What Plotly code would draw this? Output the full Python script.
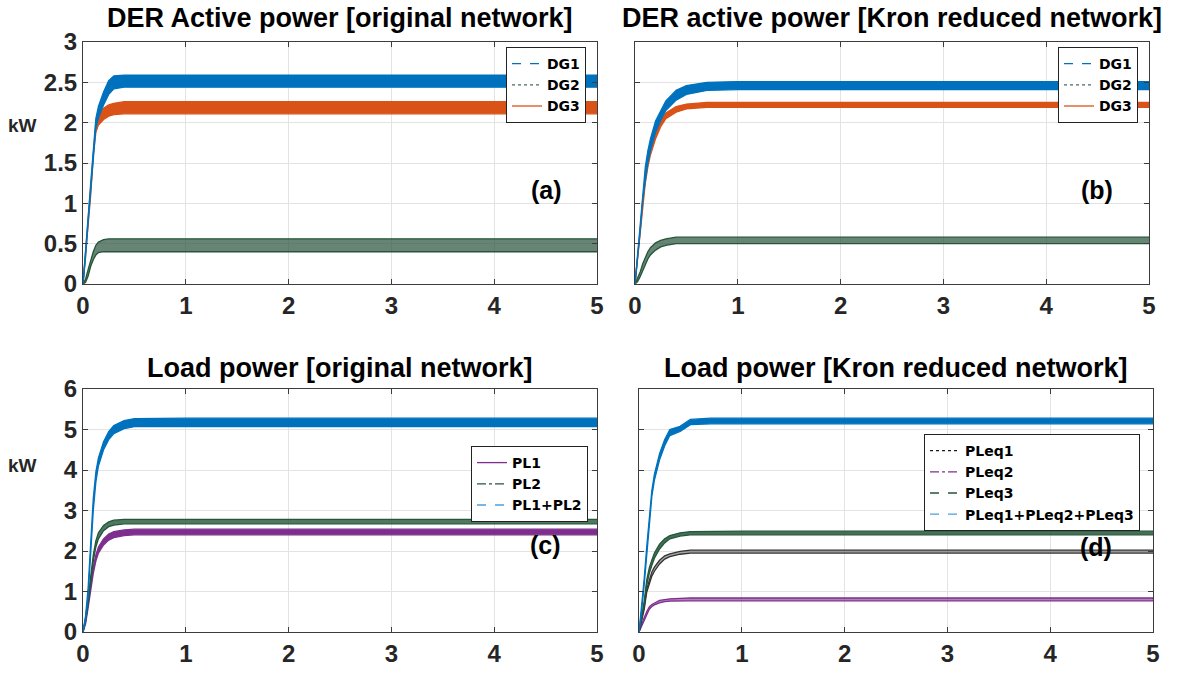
import plotly.graph_objects as go

# Time base (s) shared by all envelopes
T = [0, 0.025, 0.05, 0.075, 0.1, 0.125, 0.15, 0.2, 0.25, 0.3, 0.4, 0.5, 0.7, 1, 2, 3, 4, 5]

# (a) DER active power, original network: lower / upper envelope of the ripple (kW)
DG1_a_lo = [0, 0.33, 0.77, 1.17, 1.60, 1.93, 2.06, 2.22, 2.35, 2.42, 2.44, 2.44, 2.44, 2.44, 2.44, 2.44, 2.44, 2.44]
DG1_a_hi = [0, 0.37, 0.83, 1.25, 1.70, 2.05, 2.20, 2.38, 2.52, 2.58, 2.59, 2.59, 2.59, 2.59, 2.59, 2.59, 2.59, 2.59]
DG2_a_lo = [0, 0.02, 0.10, 0.22, 0.30, 0.36, 0.39, 0.40, 0.40, 0.40, 0.40, 0.40, 0.40, 0.40, 0.40, 0.40, 0.40, 0.40]
DG2_a_hi = [0, 0.06, 0.18, 0.30, 0.40, 0.48, 0.52, 0.55, 0.56, 0.56, 0.56, 0.56, 0.56, 0.56, 0.56, 0.56, 0.56, 0.56]
DG3_a_lo = [0, 0.36, 0.68, 1.10, 1.60, 1.88, 1.97, 2.04, 2.08, 2.10, 2.11, 2.11, 2.11, 2.11, 2.11, 2.11, 2.11, 2.11]
DG3_a_hi = [0, 0.42, 0.76, 1.20, 1.70, 2.00, 2.09, 2.18, 2.22, 2.24, 2.26, 2.26, 2.26, 2.26, 2.26, 2.26, 2.26, 2.26]

# (b) DER active power, Kron reduced network
DG1_b_lo = [0, 0.30, 0.65, 1.05, 1.30, 1.50, 1.65, 1.88, 2.03, 2.15, 2.28, 2.35, 2.40, 2.41, 2.41, 2.41, 2.41, 2.41]
DG1_b_hi = [0, 0.36, 0.75, 1.18, 1.45, 1.65, 1.80, 2.02, 2.15, 2.27, 2.40, 2.46, 2.50, 2.51, 2.51, 2.51, 2.51, 2.51]
DG2_b_lo = [0, 0.03, 0.09, 0.17, 0.25, 0.31, 0.36, 0.42, 0.46, 0.48, 0.50, 0.50, 0.50, 0.50, 0.50, 0.50, 0.50, 0.50]
DG2_b_hi = [0, 0.07, 0.15, 0.25, 0.33, 0.40, 0.45, 0.51, 0.54, 0.56, 0.58, 0.58, 0.58, 0.58, 0.58, 0.58, 0.58, 0.58]
DG3_b_lo = [0, 0.30, 0.62, 0.98, 1.25, 1.45, 1.60, 1.80, 1.95, 2.05, 2.13, 2.17, 2.19, 2.19, 2.19, 2.19, 2.19, 2.19]
DG3_b_hi = [0, 0.34, 0.68, 1.06, 1.33, 1.53, 1.68, 1.88, 2.03, 2.12, 2.20, 2.23, 2.25, 2.25, 2.25, 2.25, 2.25, 2.25]

# (c) Load power, original network
PL1_lo = [0, 0.20, 0.60, 1.05, 1.45, 1.75, 1.95, 2.15, 2.27, 2.33, 2.38, 2.40, 2.40, 2.40, 2.40, 2.40, 2.40, 2.40]
PL1_hi = [0, 0.30, 0.75, 1.20, 1.60, 1.90, 2.10, 2.30, 2.42, 2.48, 2.52, 2.54, 2.54, 2.54, 2.54, 2.54, 2.54, 2.54]
PL2_lo = [0, 0.25, 0.70, 1.25, 1.75, 2.10, 2.30, 2.50, 2.60, 2.64, 2.67, 2.67, 2.67, 2.67, 2.67, 2.67, 2.67, 2.67]
PL2_hi = [0, 0.35, 0.85, 1.40, 1.90, 2.25, 2.45, 2.63, 2.72, 2.76, 2.78, 2.78, 2.78, 2.78, 2.78, 2.78, 2.78, 2.78]
PLS_lo = [0, 0.30, 0.90, 2.10, 3.00, 3.70, 4.10, 4.50, 4.75, 4.90, 5.02, 5.07, 5.07, 5.07, 5.07, 5.07, 5.07, 5.07]
PLS_hi = [0, 0.40, 1.10, 2.30, 3.30, 3.95, 4.30, 4.70, 4.95, 5.10, 5.22, 5.27, 5.28, 5.28, 5.28, 5.28, 5.28, 5.28]

# (d) Load power, Kron reduced network
PLeq1_lo = [0, 0.25, 0.55, 0.98, 1.20, 1.38, 1.50, 1.68, 1.80, 1.86, 1.92, 1.95, 1.95, 1.95, 1.95, 1.95, 1.95, 1.95]
PLeq1_hi = [0, 0.30, 0.62, 1.06, 1.30, 1.48, 1.60, 1.77, 1.88, 1.93, 1.99, 2.02, 2.02, 2.02, 2.02, 2.02, 2.02, 2.02]
PLeq2_lo = [0, 0.15, 0.30, 0.45, 0.56, 0.63, 0.67, 0.72, 0.75, 0.76, 0.77, 0.77, 0.77, 0.77, 0.77, 0.77, 0.77, 0.77]
PLeq2_hi = [0, 0.19, 0.35, 0.50, 0.62, 0.68, 0.72, 0.78, 0.80, 0.82, 0.83, 0.84, 0.84, 0.84, 0.84, 0.84, 0.84, 0.84]
PLeq3_lo = [0, 0.30, 0.65, 1.15, 1.45, 1.65, 1.82, 2.05, 2.20, 2.30, 2.37, 2.40, 2.40, 2.40, 2.40, 2.40, 2.40, 2.40]
PLeq3_hi = [0, 0.38, 0.75, 1.28, 1.58, 1.78, 1.95, 2.17, 2.30, 2.38, 2.45, 2.48, 2.49, 2.49, 2.49, 2.49, 2.49, 2.49]
PLeqS_lo = [0, 0.50, 1.15, 1.95, 2.75, 3.35, 3.75, 4.25, 4.60, 4.85, 4.95, 5.12, 5.14, 5.14, 5.14, 5.14, 5.14, 5.14]
PLeqS_hi = [0, 0.60, 1.30, 2.10, 2.90, 3.50, 3.90, 4.40, 4.75, 5.00, 5.08, 5.25, 5.28, 5.28, 5.28, 5.28, 5.28, 5.28]

BLUE = "#0072BD"
LBLUE = "#4D9FDB"
ORANGE = "#D95319"
PURPLE = "#7E2F8E"
GREEN = "#24563A"
BLACK = "#1a1a1a"

FONT = "Liberation Sans, Arial, sans-serif"
LEGEND_FONT = "DejaVu Sans, Liberation Sans, sans-serif"

fig = go.Figure()


def band(lo, hi, color, fillcolor, ax):
    xa, ya = ax
    fig.add_trace(go.Scatter(x=T, y=lo, mode="lines", line=dict(color=color, width=1.3),
                             xaxis=xa, yaxis=ya, showlegend=False, hoverinfo="skip"))
    fig.add_trace(go.Scatter(x=T, y=hi, mode="lines", line=dict(color=color, width=1.3),
                             fill="tonexty", fillcolor=fillcolor,
                             xaxis=xa, yaxis=ya, showlegend=False, hoverinfo="skip"))


def key(name, color, dash, legend):
    fig.add_trace(go.Scatter(x=[None], y=[None], mode="lines", name=name,
                             line=dict(color=color, dash=dash, width=1.3),
                             legend=legend, showlegend=True))


# (a)
band(DG2_a_lo, DG2_a_hi, GREEN, "rgba(45,85,62,0.72)", ("x", "y"))
band(DG3_a_lo, DG3_a_hi, ORANGE, ORANGE, ("x", "y"))
band(DG1_a_lo, DG1_a_hi, BLUE, BLUE, ("x", "y"))
key("DG1", BLUE, "dash", "legend")
key("DG2", "#4a6a6a", "dot", "legend")
key("DG3", ORANGE, "solid", "legend")

# (b)
band(DG2_b_lo, DG2_b_hi, GREEN, "rgba(45,85,62,0.72)", ("x2", "y2"))
band(DG3_b_lo, DG3_b_hi, ORANGE, ORANGE, ("x2", "y2"))
band(DG1_b_lo, DG1_b_hi, BLUE, BLUE, ("x2", "y2"))
key("DG1", BLUE, "dash", "legend2")
key("DG2", "#4a6a6a", "dot", "legend2")
key("DG3", ORANGE, "solid", "legend2")

# (c)
band(PL1_lo, PL1_hi, PURPLE, PURPLE, ("x3", "y3"))
band(PL2_lo, PL2_hi, GREEN, "rgba(36,86,58,0.8)", ("x3", "y3"))
band(PLS_lo, PLS_hi, BLUE, BLUE, ("x3", "y3"))
key("PL1", PURPLE, "solid", "legend3")
key("PL2", GREEN, "dashdot", "legend3")
key("PL1+PL2", LBLUE, "dash", "legend3")

# (d)
band(PLeq2_lo, PLeq2_hi, PURPLE, "rgba(126,47,142,0.6)", ("x4", "y4"))
band(PLeq1_lo, PLeq1_hi, "#333333", "rgba(60,60,60,0.45)", ("x4", "y4"))
band(PLeq3_lo, PLeq3_hi, GREEN, "rgba(36,86,58,0.85)", ("x4", "y4"))
band(PLeqS_lo, PLeqS_hi, BLUE, BLUE, ("x4", "y4"))
key("PLeq1", BLACK, "dot", "legend4")
key("PLeq2", PURPLE, "dashdot", "legend4")
key("PLeq3", GREEN, "dash", "legend4")
key("PLeq1+PLeq2+PLeq3", LBLUE, "dash", "legend4")

W, H = 1178, 673


def dom_x(l, r):
    return [l / W, r / W]


def dom_y(top, bottom):
    return [1 - bottom / H, 1 - top / H]


axis_common = dict(showline=True, mirror="ticks", linecolor="#3c3c3c", linewidth=1,
                   ticks="inside", ticklen=5, tickcolor="#3c3c3c", automargin=False,
                   showgrid=True, gridcolor="#e3e3e3", gridwidth=1, zeroline=False,
                   tickfont=dict(family=FONT, size=24, color="#262626", weight="bold"))

xa = dict(range=[0, 5], dtick=1, tick0=0, **axis_common)
ya_top = dict(range=[0, 3], dtick=0.5, tick0=0, **axis_common)
ya_bot = dict(range=[0, 6], dtick=1, tick0=0, **axis_common)

legend_common = dict(bgcolor="white", bordercolor="#222222", borderwidth=1,
                     font=dict(family=LEGEND_FONT, size=14, color="black", weight="bold"),
                     xanchor="right", yanchor="top", tracegroupgap=0, itemwidth=30,
                     traceorder="normal")

fig.update_layout(
    width=W, height=H,
    margin=dict(l=0, r=0, t=0, b=0),
    plot_bgcolor="white", paper_bgcolor="white",
    xaxis=dict(domain=dom_x(83, 597), anchor="y", **xa),
    yaxis=dict(domain=dom_y(42, 284), anchor="x", **ya_top),
    xaxis2=dict(domain=dom_x(635, 1149), anchor="y2", **xa),
    yaxis2=dict(domain=dom_y(42, 284), anchor="x2", showticklabels=False, **ya_top),
    xaxis3=dict(domain=dom_x(83, 597), anchor="y3", **xa),
    yaxis3=dict(domain=dom_y(389, 632), anchor="x3", **ya_bot),
    xaxis4=dict(domain=dom_x(639, 1153), anchor="y4", **xa),
    yaxis4=dict(domain=dom_y(389, 632), anchor="x4", showticklabels=False, **ya_bot),
    legend=dict(x=586 / W, y=1 - 47 / H, **legend_common),
    legend2=dict(x=1138 / W, y=1 - 47 / H, **legend_common),
    legend3=dict(x=588 / W, y=1 - 446 / H, **legend_common),
    legend4=dict(x=1140 / W, y=1 - 434 / H, **legend_common),
    showlegend=True,
)

titles = [
    ("DER Active power [original network]", 340, 18),
    ("DER active power [Kron reduced network]", 892, 18),
    ("Load power [original network]", 340, 368),
    ("Load power [Kron reduced network]", 896, 368),
]
for text, cx, cy in titles:
    fig.add_annotation(text=text, xref="paper", yref="paper", x=cx / W, y=1 - cy / H,
                       xanchor="center", yanchor="middle", showarrow=False,
                       font=dict(family=FONT, size=27, color="black", weight="bold"))

for cy in (125, 465):
    fig.add_annotation(text="kW", xref="paper", yref="paper", x=22 / W, y=1 - cy / H,
                       xanchor="center", yanchor="middle", showarrow=False,
                       font=dict(family=FONT, size=19, color="#262626", weight="bold"))

panel_tags = [("(a)", "x", "y", 4.51, 1.16), ("(b)", "x2", "y2", 4.49, 1.16),
              ("(c)", "x3", "y3", 4.5, 2.15), ("(d)", "x4", "y4", 4.45, 2.1)]
for text, xr, yr, px, py in panel_tags:
    fig.add_annotation(text=text, xref=xr, yref=yr, x=px, y=py, showarrow=False,
                       xanchor="center", yanchor="middle",
                       font=dict(family=FONT, size=25, color="black", weight="bold"))

fig.write_html("out.html")
